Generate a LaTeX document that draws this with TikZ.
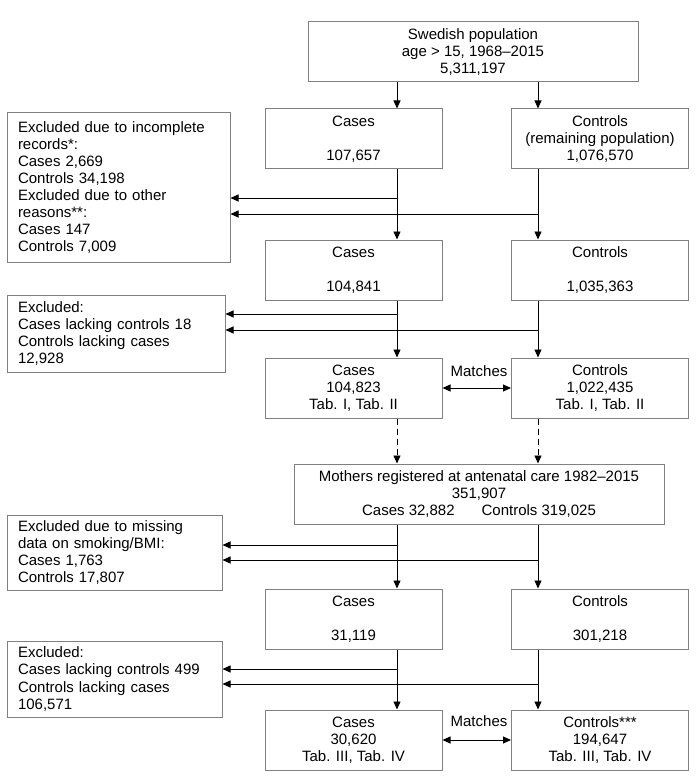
\documentclass[tikz,border=0pt]{standalone}
\usepackage{fontspec}
\setmainfont{Liberation Sans}
\usetikzlibrary{arrows.meta}
\definecolor{boxgray}{RGB}{128,128,128}
\begin{document}
\begin{tikzpicture}[x=1pt,y=-1pt,
  every node/.style={font=\fontsize{15}{17.1}\selectfont},
  box/.style={draw=boxgray, line width=1pt, inner sep=0pt},
  cbox/.style={box, align=center, minimum width=177pt, minimum height=60pt},
  lbox/.style={box, align=left, inner xsep=11pt},
  arr/.style={draw=black, line width=0.9pt, -{Triangle[length=8pt,width=7pt]}},
  darr/.style={draw=black, line width=0.9pt, {Triangle[length=8pt,width=7pt]}-{Triangle[length=8pt,width=7pt]}},
  dasharr/.style={arr, dash pattern=on 6pt off 4pt}]
\useasboundingbox (0,0) rectangle (697,778);

% main column boxes
\node[box, align=center, minimum width=330pt, minimum height=60pt] (top) at (473,52)
  {Swedish population\\age > 15, 1968–2015\\5,311,197};
\node[cbox] (c1) at (353.5,139) {Cases\\[17.1pt]107,657};
\node[cbox] (k1) at (600,139) {Controls\\(remaining population)\\1,076,570};
\node[cbox] (c2) at (353.5,270) {Cases\\[17.1pt]104,841};
\node[cbox] (k2) at (600,270) {Controls\\[17.1pt]1,035,363};
\node[cbox] (c3) at (353.5,388) {Cases\\104,823\\Tab. I, Tab. II};
\node[cbox] (k3) at (600,388) {Controls\\1,022,435\\Tab. I, Tab. II};
\node[box, align=center, minimum width=370pt, minimum height=60pt] (mo) at (479,494)
  {Mothers registered at antenatal care 1982–2015\\351,907\\Cases 32,882\hspace{27pt}Controls 319,025};
\node[cbox] (c4) at (353.5,619) {Cases\\[17.1pt]31,119};
\node[cbox] (k4) at (600,619) {Controls\\[17.1pt]301,218};
\node[cbox] (c5) at (353.5,740) {Cases\\30,620\\Tab. III, Tab. IV};
\node[cbox] (k5) at (600,740) {Controls***\\194,647\\Tab. III, Tab. IV};

% left exclusion boxes
\node[lbox, text width=201pt, minimum height=149pt] (l1) at (118.5,187.5)
  {Excluded due to incomplete\\records*:\\Cases 2,669\\Controls 34,198\\Excluded due to other\\reasons**:\\Cases 147\\Controls 7,009};
\node[lbox, text width=196pt, minimum height=77pt] (l2) at (116,333.5)
  {Excluded:\\Cases lacking controls 18\\Controls lacking cases\\12,928};
\node[lbox, text width=193pt, minimum height=75pt] (l3) at (114.5,552.5)
  {Excluded due to missing\\data on smoking/BMI:\\Cases 1,763\\Controls 17,807};
\node[lbox, text width=193pt, minimum height=76pt] (l4) at (114.5,679)
  {Excluded:\\Cases lacking controls 499\\Controls lacking cases\\106,571};

% match labels
\node (m1) at (479,371) {Matches};
\node (m2) at (479,721) {Matches};

% column lines
\coordinate (xc) at (397,0);
\coordinate (xk) at (538,0);

\draw[arr] (top.south -| xc) -- (c1.north -| xc);
\draw[arr] (top.south -| xk) -- (k1.north -| xk);
\draw[arr] (c1.south -| xc) -- (c2.north -| xc);
\draw[arr] (k1.south -| xk) -- (k2.north -| xk);
\coordinate (e1) at (397,198);
\coordinate (e2) at (538,214);
\draw[arr] (e1) -- (e1 -| l1.east);
\draw[arr] (e2) -- (e2 -| l1.east);

\draw[arr] (c2.south -| xc) -- (c3.north -| xc);
\draw[arr] (k2.south -| xk) -- (k3.north -| xk);
\coordinate (e3) at (397,314);
\coordinate (e4) at (538,330);
\draw[arr] (e3) -- (e3 -| l2.east);
\draw[arr] (e4) -- (e4 -| l2.east);

\draw[darr] (c3.east) -- (k3.west);

\draw[dasharr] (c3.south -| xc) -- (mo.north -| xc);
\draw[dasharr] (k3.south -| xk) -- (mo.north -| xk);

\draw[arr] (mo.south -| xc) -- (c4.north -| xc);
\draw[arr] (mo.south -| xk) -- (k4.north -| xk);
\coordinate (e5) at (397,545);
\coordinate (e6) at (538,560);
\draw[arr] (e5) -- (e5 -| l3.east);
\draw[arr] (e6) -- (e6 -| l3.east);

\draw[arr] (c4.south -| xc) -- (c5.north -| xc);
\draw[arr] (k4.south -| xk) -- (k5.north -| xk);
\coordinate (e7) at (397,669);
\coordinate (e8) at (538,684);
\draw[arr] (e7) -- (e7 -| l4.east);
\draw[arr] (e8) -- (e8 -| l4.east);

\draw[darr] (c5.east) -- (k5.west);
\end{tikzpicture}
\end{document}
